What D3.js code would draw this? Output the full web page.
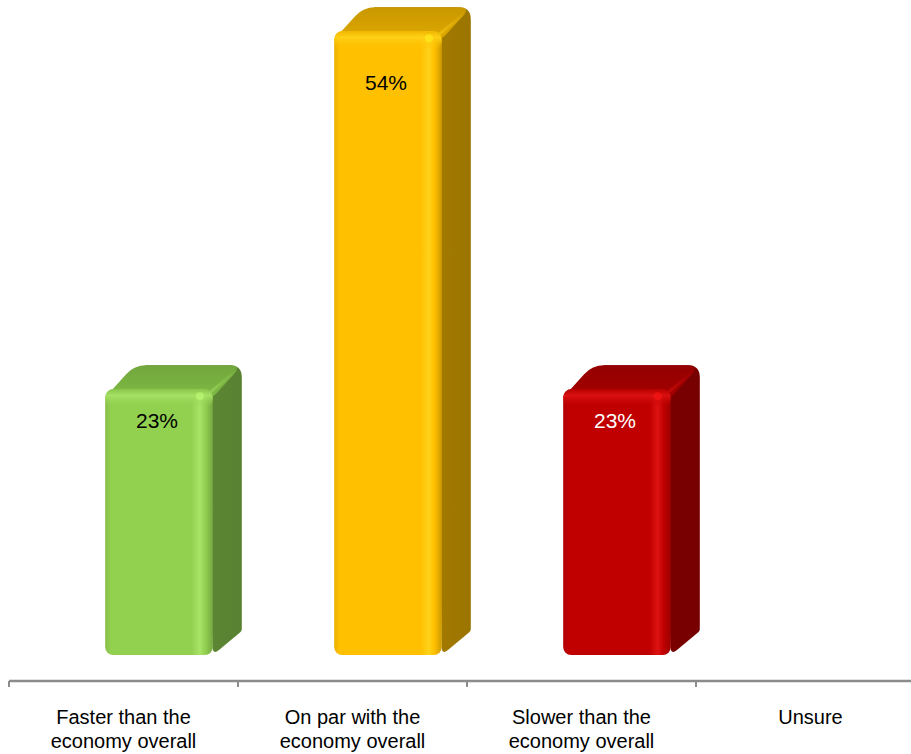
<!DOCTYPE html>
<html>
<head>
<meta charset="utf-8">
<script src="https://cdn.jsdelivr.net/npm/d3@7"></script>
<style>
  html, body { margin: 0; padding: 0; background: #ffffff; }
  svg { display: block; font-family: "Liberation Sans", Arial, sans-serif; }
</style>
</head>
<body>
<svg id="chart" width="911" height="754"></svg>
<script>
// Response categories (two-line axis labels) and their shares in percent
const categories = ["Faster than the economy overall", "On par with the economy overall", "Slower than the economy overall", "Unsure"];
const labelLines = [["Faster than the", "economy overall"], ["On par with the", "economy overall"], ["Slower than the", "economy overall"], ["Unsure"]];
const values = [23, 54, 23, null];
const valueLabels = ["23%", "54%", "23%", ""];

// Colour set per bar: front, highlight, top, side, label colour
const frontColors = ["#92d050", "#ffc000", "#c00000", null];
const highlightColors = ["#a8e466", "#ffd21a", "#de1212", null];
const topColors = ["#78b040", "#d3a000", "#9c0000", null];
const sideColors = ["#5d8834", "#a47b00", "#7c0000", null];
const labelColors = ["#000000", "#000000", "#ffffff", null];

const svg = d3.select("#chart");
const defs = svg.append("defs");

const x = d3.scaleBand().domain(categories).range([9, 925]).paddingInner(0).paddingOuter(0);
const y = d3.scaleLinear().domain([0, 60]).range([655, -38]);
const labelY = d3.scaleLinear().domain([0, 60]).range([671, 17]);

const depthX = 29, depthY = -24;
const frontOffset = 0.42, frontWidth = 0.47;
const axisY = 681;

// Rounded polygon: each corner is cut by r and joined with a quadratic curve
function roundedPolygon(pts, radii) {
  const n = pts.length;
  let d = "";
  for (let i = 0; i < n; i++) {
    const p = pts[i], prev = pts[(i - 1 + n) % n], next = pts[(i + 1) % n];
    const r = radii[i];
    const v1 = [prev[0] - p[0], prev[1] - p[1]], v2 = [next[0] - p[0], next[1] - p[1]];
    const l1 = Math.hypot(v1[0], v1[1]), l2 = Math.hypot(v2[0], v2[1]);
    const a = [p[0] + v1[0] / l1 * Math.min(r, l1 / 2), p[1] + v1[1] / l1 * Math.min(r, l1 / 2)];
    const b = [p[0] + v2[0] / l2 * Math.min(r, l2 / 2), p[1] + v2[1] / l2 * Math.min(r, l2 / 2)];
    d += (i === 0 ? "M" : "L") + a[0] + "," + a[1] + "Q" + p[0] + "," + p[1] + " " + b[0] + "," + b[1];
  }
  return d + "Z";
}

function shade(c, k) { return d3.color(c)[k > 0 ? "brighter" : "darker"](Math.abs(k)).formatHex(); }

const bars = categories.map((c, i) => ({ c, i, v: values[i] })).filter(d => d.v != null);

bars.forEach(d => {
  const i = d.i;
  // horizontal gradient for the rounded front face
  const gf = defs.append("linearGradient").attr("id", "front" + i).attr("x1", 0).attr("x2", 1).attr("y1", 0).attr("y2", 0);
  [[0, shade(frontColors[i], -0.25)], [0.05, frontColors[i]], [0.8, frontColors[i]], [0.88, highlightColors[i]],
   [0.93, frontColors[i]], [1, shade(frontColors[i], -0.6)]]
    .forEach(s => gf.append("stop").attr("offset", s[0]).attr("stop-color", s[1]));
  // top bevel on the front face
  const gb = defs.append("linearGradient").attr("id", "bevel" + i).attr("x1", 0).attr("x2", 0).attr("y1", 0).attr("y2", 1);
  [[0, shade(frontColors[i], -0.15), 1], [0.35, highlightColors[i], 0.9], [1, frontColors[i], 0]]
    .forEach(s => gb.append("stop").attr("offset", s[0]).attr("stop-color", s[1]).attr("stop-opacity", s[2]));
  // top face shading: lighter towards the front edge
  const gt = defs.append("linearGradient").attr("id", "top" + i).attr("x1", 0).attr("x2", 0).attr("y1", 1).attr("y2", 0);
  [[0, shade(topColors[i], 0.15)], [0.5, topColors[i]], [1, shade(topColors[i], -0.15)]]
    .forEach(s => gt.append("stop").attr("offset", s[0]).attr("stop-color", s[1]));
  // side face shading
  const gs = defs.append("linearGradient").attr("id", "side" + i).attr("x1", 0).attr("x2", 1).attr("y1", 0).attr("y2", 0);
  [[0, shade(sideColors[i], 0.1)], [0.6, sideColors[i]], [1, shade(sideColors[i], -0.15)]]
    .forEach(s => gs.append("stop").attr("offset", s[0]).attr("stop-color", s[1]));
  // diagonal highlight along the top-right edge
  const hl = defs.append("linearGradient").attr("id", "edge" + i).attr("x1", 0).attr("x2", 1).attr("y1", 1).attr("y2", 0);
  [[0, highlightColors[i], 0.9], [1, highlightColors[i], 0]]
    .forEach(s => hl.append("stop").attr("offset", s[0]).attr("stop-color", s[1]).attr("stop-opacity", s[2]));
});

const barG = svg.append("g").selectAll("g").data(bars).join("g");

barG.each(function (d) {
  const g = d3.select(this);
  const i = d.i;
  const x0 = x(d.c) + x.bandwidth() * frontOffset;
  const w = x.bandwidth() * frontWidth;
  const y0 = y(d.v), yb = y(0);

  // side face
  g.append("path")
    .attr("d", roundedPolygon([
      [x0 + w - 10, y0], [x0 + 10 + depthX, y0 + depthY], [x0 + w + depthX, y0 + depthY],
      [x0 + w + depthX, yb + depthY], [x0 + w, yb]
    ], [0, 0, 12, 2, 8]))
    .attr("fill", `url(#side${i})`);

  // top face
  g.append("path")
    .attr("d", roundedPolygon([
      [x0, y0 + 8], [x0 + depthX, y0 + depthY], [x0 + w + depthX, y0 + depthY], [x0 + w, y0 + 8]
    ], [6, 12, 12, 6]))
    .attr("fill", `url(#top${i})`);

  // highlight along the top-right edge
  g.append("line")
    .attr("x1", x0 + w - 4).attr("y1", y0 + 4)
    .attr("x2", x0 + w + depthX - 4).attr("y2", y0 + depthY + 4)
    .attr("stroke", `url(#edge${i})`).attr("stroke-width", 3).attr("stroke-linecap", "round").attr("opacity", 0.6);

  // front face
  g.append("rect")
    .attr("x", x0).attr("y", y0).attr("width", w).attr("height", yb - y0)
    .attr("rx", 8).attr("ry", 8)
    .attr("fill", `url(#front${i})`);

  // rounded top bevel of the front face
  g.append("rect")
    .attr("x", x0).attr("y", y0).attr("width", w).attr("height", 18)
    .attr("rx", 8).attr("ry", 8)
    .attr("fill", `url(#bevel${i})`);

  // glint at the top-right corner
  g.append("circle")
    .attr("cx", x0 + w * 0.88).attr("cy", y0 + 7).attr("r", 4)
    .attr("fill", shade(highlightColors[i], 0.4)).attr("opacity", 0.55);

  // value label inside the bar
  g.append("text")
    .attr("x", x0 + w / 2 - 2).attr("y", labelY(d.v))
    .attr("dy", "0.35em")
    .attr("text-anchor", "middle")
    .attr("font-size", 21)
    .attr("fill", labelColors[i])
    .text(valueLabels[i]);
});

// category axis
const axisG = svg.append("g");
axisG.append("line")
  .attr("x1", x.range()[0]).attr("x2", 911)
  .attr("y1", axisY).attr("y2", axisY)
  .attr("stroke", "#8c8c8c").attr("stroke-width", 2.5);
axisG.selectAll("line.tick").data(categories).join("line")
  .attr("class", "tick")
  .attr("x1", d => x(d)).attr("x2", d => x(d))
  .attr("y1", axisY).attr("y2", axisY + 6)
  .attr("stroke", "#8c8c8c").attr("stroke-width", 2);

const labelG = axisG.selectAll("text").data(categories).join("text")
  .attr("text-anchor", "middle")
  .attr("font-size", 20)
  .attr("fill", "#000000")
  .attr("transform", d => `translate(${x(d) + x.bandwidth() / 2},0)`);
labelG.each(function (d, i) {
  const t = d3.select(this);
  labelLines[i].forEach((line, k) => {
    t.append("tspan").attr("x", 0).attr("y", 724 + k * 24).text(line);
  });
});
</script>
</body>
</html>
